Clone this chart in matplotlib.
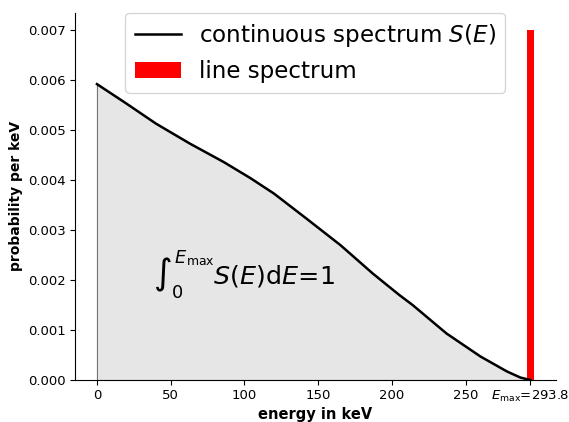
import numpy as np
import matplotlib.pyplot as plt

# continuous beta spectrum (keV, probability per keV)
energy = [0, 18, 40, 63, 86, 104, 120, 142, 165, 187, 205, 214, 237, 260, 278, 287, 293.8]
spectrum = [0.00592, 0.00557, 0.00513, 0.00473, 0.00436, 0.00404, 0.00373, 0.00323,
            0.0027, 0.00213, 0.0017, 0.0015, 0.00093, 0.00047, 0.00017, 0.00005, 0.0]
e_max = 293.8
line_height = 0.007
tick_pos = [0, 50, 100, 150, 200, 250, e_max]
tick_labels = ["0", "50", "100", "150", "200", "250", r"$E_{\max}$=293.8"]

fig = plt.figure(figsize=(5.69, 4.22), dpi=100)
ax = fig.add_axes([0.132, 0.0995, 0.845, 0.8705])

ax.fill_between(energy, spectrum, facecolor="0.9", edgecolor="0.45", lw=0.8)
ax.plot(energy, spectrum, color="black", lw=1.8, label=r"continuous spectrum $S(E)$")
ax.bar([e_max], [line_height], width=5, color="red", label="line spectrum")

ax.text(38, 0.0021, r"$\int_0^{E_{\max}} S(E)\mathrm{d}E$=1", fontsize=18.3, va="center")

ax.set_xticks(tick_pos)
ax.set_xticklabels(tick_labels)
ax.tick_params(labelsize=9.5, pad=3)
ax.set_ylim(0, line_height * 1.05)
ax.set_xlabel("energy in keV", fontweight="bold", fontsize=10.5, labelpad=2)
ax.set_ylabel("probability per keV", fontweight="bold", fontsize=10)
ax.spines["top"].set_visible(False)
ax.spines["right"].set_visible(False)
ax.legend(loc="upper right", bbox_to_anchor=(0.895, 1.0), borderaxespad=0.0,
          fontsize=16.6)

fig.savefig("out.png", dpi=100)
